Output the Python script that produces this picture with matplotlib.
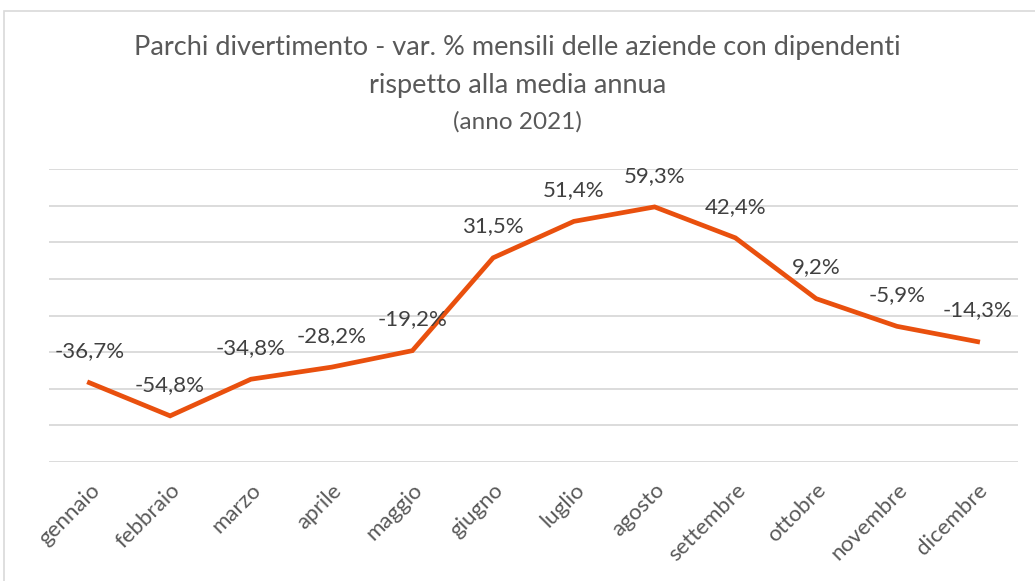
import matplotlib.pyplot as plt
from matplotlib.patches import Rectangle

# mesi e variazioni % rispetto alla media annua (2021)
mesi = ['gennaio', 'febbraio', 'marzo', 'aprile', 'maggio', 'giugno',
        'luglio', 'agosto', 'settembre', 'ottobre', 'novembre', 'dicembre']
variazioni = [-36.7, -54.8, -34.8, -28.2, -19.2, 31.5,
              51.4, 59.3, 42.4, 9.2, -5.9, -14.3]

titolo_1 = 'Parchi divertimento - var. % mensili delle aziende con dipendenti'
titolo_2 = 'rispetto alla media annua'
sottotitolo = '(anno 2021)'

plt.rcParams['font.family'] = ['Lato', 'DejaVu Sans']

fig = plt.figure(figsize=(10.35, 5.81), dpi=100)
ax = fig.add_axes([49 / 1035, 1 - 462 / 581, 969 / 1035, 293 / 581])

# bordo del grafico (solo sinistra e alto visibili)
fig.patches.append(Rectangle((3.5 / 1035, -0.1), 1.2, 1 - 11 / 581 + 0.1,
                             transform=fig.transFigure, fill=False,
                             edgecolor='#D9D9D9', linewidth=1.2))

x = list(range(len(mesi)))
ax.plot(x, variazioni, color='#E9500E', linewidth=3.4,
        solid_joinstyle='miter', zorder=3)

for xi, v in zip(x, variazioni):
    etichetta = f'{v:.1f}%'.replace('.', ',')
    ax.annotate(etichetta, (xi, v), xytext=(0, 22.5), textcoords='offset points',
                ha='center', va='center', fontsize=16, color='#404040', zorder=4)

ax.set_xlim(-0.5, len(mesi) - 0.5)
ax.set_ylim(-80, 80)
ax.set_yticks(range(-80, 81, 20))
ax.set_yticklabels([])
ax.tick_params(axis='y', length=0)
ax.grid(axis='y', color='#D9D9D9', linewidth=1.3, zorder=0)
ax.set_axisbelow(True)

ax.set_xticks(x)
ax.set_xticklabels(mesi, rotation=45, ha='right', rotation_mode='anchor',
                   fontsize=16, color='#595959')
ax.tick_params(axis='x', length=0, pad=13)

for s in ax.spines.values():
    s.set_visible(False)

fig.text(0.5, 1 - 48 / 581, titolo_1, ha='center', va='center', fontsize=19.5,
         color='#595959')
fig.text(0.5, 1 - 86 / 581, titolo_2, ha='center', va='center', fontsize=19.5,
         color='#595959')
fig.text(0.5, 1 - 122 / 581, sottotitolo, ha='center', va='center',
         fontsize=17.5, color='#595959')

fig.savefig('out.png', dpi=100)
